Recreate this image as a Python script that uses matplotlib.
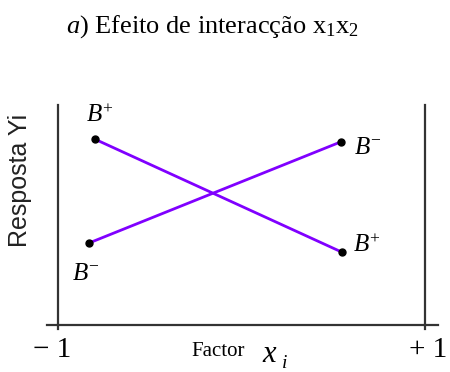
import matplotlib
matplotlib.use('Agg')
import matplotlib.pyplot as plt

# interaction effect: response of x1 at both levels of x2
levels = [-1, 1]
x_plus = [-0.80, 0.55]
x_minus = [-0.83, 0.54]
b_plus = [0.845, 0.33]
b_minus = [0.373, 0.832]
lab_plus = '$B^{+}$'
lab_minus = '$B^{-}$'

plt.rcParams['mathtext.fontset'] = 'custom'
plt.rcParams['mathtext.rm'] = 'Liberation Serif'
plt.rcParams['mathtext.it'] = 'Liberation Serif:italic'

W, H = 450, 372
fig = plt.figure(figsize=(W / 100, H / 100), dpi=100)
ax = fig.add_axes([58 / W, 47 / H, 367 / W, 220 / H])
ax.set_xlim(levels[0], levels[1])
ax.set_ylim(0, 1)

ax.spines['top'].set_visible(False)
ax.spines['bottom'].set_visible(False)
for s in ['left', 'right']:
    ax.spines[s].set_color('#333333')
    ax.spines[s].set_linewidth(1.6)
ax.set_yticks([])
ax.set_xticks([])

# bottom line runs a little past both verticals
ax.plot([-0.03, 1.035], [0, 0], transform=ax.transAxes, color='#333333',
        lw=1.6, clip_on=False)
for lv in levels:
    ax.plot([lv, lv], [0, -0.02], color='#333333', lw=1.6, clip_on=False)

ax.plot(x_plus, b_plus, color='#8000ff', lw=2, marker='o', ms=5,
        mfc='black', mec='black')
ax.plot(x_minus, b_minus, color='#8000ff', lw=2, marker='o', ms=5,
        mfc='black', mec='black')

lab_kw = dict(textcoords='offset points', ha='center', va='center',
              fontsize=18)
ax.annotate(lab_plus, (x_plus[0], b_plus[0]), xytext=(3.5, 17), **lab_kw)
ax.annotate(lab_minus, (x_minus[0], b_minus[0]), xytext=(-2, -21.5), **lab_kw)
ax.annotate(lab_minus, (x_minus[1], b_minus[1]), xytext=(20, -3.5), **lab_kw)
ax.annotate(lab_plus, (x_plus[1], b_plus[1]), xytext=(18, 5), **lab_kw)

serif = 'Liberation Serif'
fig.text(52 / W, 1 - 350 / H, '\u2212 1', ha='center', va='center',
         fontsize=21, family=serif)
fig.text(428 / W, 1 - 350 / H, '+ 1', ha='center', va='center',
         fontsize=21, family=serif)
fig.text(218 / W, 1 - 351 / H, 'Factor', ha='center', va='center',
         fontsize=15, family=serif)
fig.text(270 / W, 1 - 353 / H, '$x$', ha='center', va='center',
         fontsize=22)
fig.text(284 / W, 1 - 362 / H, '$i$', ha='center', va='center',
         fontsize=14)

ax.set_ylabel('Resposta Yi', family='Liberation Sans', fontsize=18,
              color='#222222')
ax.yaxis.set_label_coords(-0.07, 0.655)

fig.text(212 / W, 1 - 27 / H, '$\\mathit{a}$) Efeito de interacção x$_1$x$_2$',
         ha='center', va='center', fontsize=19, family=serif)

fig.savefig('out.png', dpi=100)
